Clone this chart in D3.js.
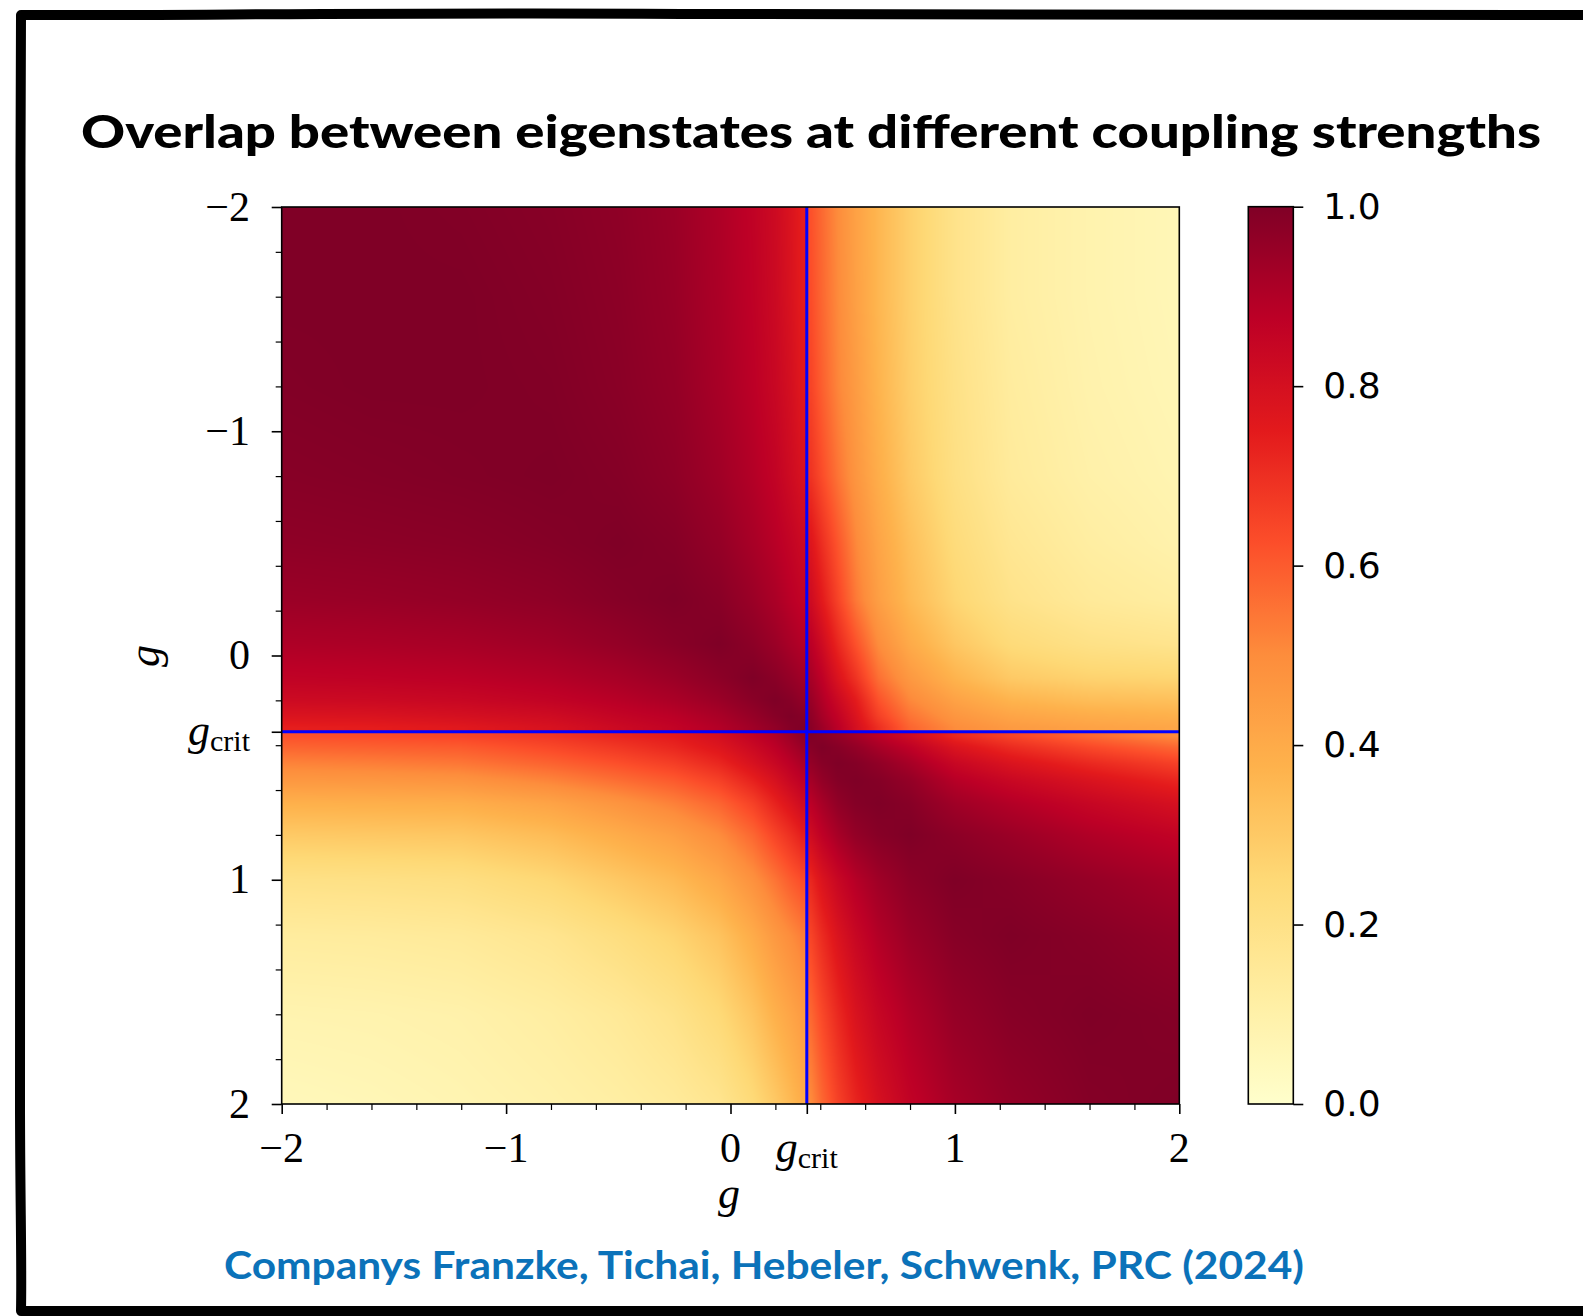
<!DOCTYPE html>
<html>
<head>
<meta charset="utf-8">
<script src="https://cdn.jsdelivr.net/npm/d3@7"></script>
<style>
  body { margin: 0; background: #ffffff; }
  svg { display: block; }
</style>
</head>
<body>
<svg id="chart" width="1583" height="1316"></svg>
<script>
// ---------------- data ----------------
const titleText = "Overlap between eigenstates at different coupling strengths";
const citationText = "Companys Franzke, Tichai, Hebeler, Schwenk, PRC (2024)";
const gCrit = 0.34;

// sample points in g (same for both axes)
const gNodes = [-2, -1.6, -1.2, -0.8, -0.5, -0.25, -0.05, 0.1, 0.2, 0.27, 0.32,
                0.36, 0.41, 0.48, 0.56, 0.66, 0.8, 1.0, 1.25, 1.6, 2.0];

// overlap[row = g on vertical axis][col = g on horizontal axis]
const overlap = [
 [1, 1, .995, .985, .97, .945, .905, .865, .825, .78, .74,   .62, .57, .5, .43, .36, .28, .19, .12, .085, .06],
 [1, 1, 1, .99, .975, .95, .91, .87, .83, .785, .745,        .63, .575, .505, .435, .36, .28, .19, .12, .085, .06],
 [.995, 1, 1, .995, .98, .958, .918, .878, .84, .8, .76,     .65, .59, .515, .45, .37, .285, .2, .13, .09, .065],
 [.985, .99, .995, 1, .99, .97, .935, .895, .86, .82, .79,   .69, .63, .55, .47, .39, .3, .21, .14, .1, .075],
 [.97, .975, .98, .99, 1, .988, .958, .918, .885, .855, .83, .77, .7, .61, .51, .42, .33, .235, .165, .12, .09],
 [.945, .95, .958, .97, .988, 1, .982, .945, .912, .88, .86, .82, .75, .65, .54, .44, .35, .26, .19, .145, .12],
 [.905, .91, .918, .935, .958, .982, 1, .975, .945, .915, .895, .88, .82, .72, .62, .5, .4, .31, .24, .2, .18],
 [.865, .87, .878, .895, .918, .945, .975, 1, .98, .955, .935, .92, .87, .78, .69, .56, .46, .37, .3, .27, .26],
 [.825, .83, .84, .86, .885, .912, .945, .98, 1, .985, .965,  .95, .9, .83, .75, .62, .51, .43, .37, .34, .33],
 [.78, .785, .8, .82, .855, .88, .915, .955, .985, 1, .99,     .97, .92, .86, .78, .66, .55, .47, .42, .395, .38],
 [.74, .745, .76, .79, .83, .86, .895, .935, .965, .99, 1,     .98, .94, .88, .8, .7, .58, .5, .455, .43, .415],
 [.62, .63, .645, .68, .72, .75, .8, .86, .9, .94, .97,        1, .985, .96, .925, .88, .82, .72, .65, .575, .5],
 [.58, .59, .6, .64, .68, .72, .77, .83, .875, .915, .945,     .985, 1, .985, .96, .92, .87, .78, .71, .64, .575],
 [.52, .53, .545, .585, .625, .665, .72, .79, .84, .88, .91,   .96, .985, 1, .99, .965, .92, .84, .78, .715, .655],
 [.46, .465, .475, .515, .56, .6, .655, .73, .79, .84, .87,    .925, .96, .99, 1, .99, .96, .89, .84, .785, .725],
 [.38, .385, .39, .425, .475, .525, .58, .655, .73, .78, .82,  .88, .92, .965, .99, 1, .985, .935, .895, .845, .795],
 [.3, .305, .31, .345, .395, .44, .5, .575, .65, .7, .74,      .82, .87, .92, .96, .985, 1, .975, .945, .9, .86],
 [.2, .205, .215, .255, .305, .35, .41, .485, .55, .6, .63,    .72, .78, .84, .89, .935, .975, 1, .985, .955, .92],
 [.13, .135, .145, .175, .22, .265, .32, .395, .46, .5, .53,   .65, .71, .78, .84, .895, .945, .985, 1, .985, .96],
 [.08, .085, .095, .12, .15, .19, .245, .315, .38, .42, .45,   .575, .64, .715, .785, .845, .9, .955, .985, 1, .99],
 [.05, .06, .075, .095, .115, .14, .175, .24, .3, .35, .39,    .5, .575, .655, .725, .795, .86, .92, .96, .99, 1]
];

const majorTicks = [-2, -1, 0, gCrit, 1, 2];
const majorTickLabels = ["\u22122", "\u22121", "0", "gcrit", "1", "2"];
const minorTicks = [-1.8, -1.6, -1.4, -1.2, -0.8, -0.6, -0.4, -0.2, 0.2, 0.4, 0.6, 0.8, 1.2, 1.4, 1.6, 1.8];
const colorbarTicks = [0, 0.2, 0.4, 0.6, 0.8, 1.0];
const axisLabel = "g";

// ---------------- styles ----------------
const ylOrRd = ["#ffffcc","#ffeda0","#fed976","#feb24c","#fd8d3c","#fc4e2a","#e31a1c","#bd0026","#800026"];
const color = d3.scaleLinear()
  .domain(ylOrRd.map((_, i) => i / (ylOrRd.length - 1)))
  .range(ylOrRd)
  .interpolate(d3.interpolateRgb)
  .clamp(true);

const svg = d3.select("#chart");
const x = d3.scaleLinear().domain([-2, 2]).range([281.7, 1179.3]);
const y = d3.scaleLinear().domain([-2, 2]).range([207, 1104]);
const cScale = d3.scaleLinear().domain([0, 1]).range([1104, 206.7]);
const defs = svg.append("defs");

// ---------------- hand-drawn frame ----------------
svg.append("path")
  .attr("d", "M1610,15 C1300,13 1000,17 700,14 C400,12 150,16 21,15 C19,400 23,800 20,1100 C20,1200 22,1260 21,1311 C400,1313 900,1309 1610,1311")
  .attr("fill", "none").attr("stroke", "#000").attr("stroke-width", 10)
  .attr("stroke-linejoin", "round").attr("stroke-linecap", "round");

// ---------------- title & citation ----------------
svg.append("text").text(titleText)
  .attr("x", 81).attr("y", 148)
  .attr("font-family", "Lato, 'Open Sans', sans-serif").attr("font-weight", 900)
  .attr("font-size", 45).attr("fill", "#000")
  .attr("textLength", 1460).attr("lengthAdjust", "spacingAndGlyphs");

svg.append("text").text(citationText)
  .attr("x", 224).attr("y", 1279)
  .attr("font-family", "Lato, 'Open Sans', sans-serif").attr("font-weight", 700)
  .attr("font-size", 39).attr("fill", "#0b72b9")
  .attr("textLength", 1080).attr("lengthAdjust", "spacingAndGlyphs");

// ---------------- heatmap (shaded between the sampled nodes) ----------------
const n = gNodes.length;
const split = gNodes.findIndex(g => g > gCrit);
function locate(g) {
  const lo = g < gCrit ? 0 : split;
  const hi = g < gCrit ? split - 1 : n - 1;
  if (g <= gNodes[lo]) return [lo, lo, 0];
  if (g >= gNodes[hi]) return [hi, hi, 0];
  let k = lo;
  while (gNodes[k + 1] < g) k++;
  return [k, k + 1, (g - gNodes[k]) / (gNodes[k + 1] - gNodes[k])];
}
const px0 = x(-2), py0 = y(-2);
const W = Math.round(x(2) - x(-2)), H = Math.round(y(2) - y(-2));
const canvas = document.createElement("canvas");
canvas.width = W; canvas.height = H;
const ctx = canvas.getContext("2d");
const img = ctx.createImageData(W, H);
const lut = d3.range(1001).map(k => d3.rgb(color(k / 1000)));
const colLoc = d3.range(W).map(i => locate(x.invert(px0 + i + 0.5)));
const rowLoc = d3.range(H).map(j => locate(y.invert(py0 + j + 0.5)));
for (let j = 0; j < H; j++) {
  const [r0, r1, ty] = rowLoc[j];
  for (let i = 0; i < W; i++) {
    const [c0, c1, tx] = colLoc[i];
    const a = overlap[r0][c0] * (1 - tx) + overlap[r0][c1] * tx;
    const b = overlap[r1][c0] * (1 - tx) + overlap[r1][c1] * tx;
    const v = a * (1 - ty) + b * ty;
    const c = lut[Math.max(0, Math.min(1000, Math.round(v * 1000)))];
    const p = (j * W + i) * 4;
    img.data[p] = c.r; img.data[p + 1] = c.g; img.data[p + 2] = c.b; img.data[p + 3] = 255;
  }
}
ctx.putImageData(img, 0, 0);
svg.append("image")
  .attr("href", canvas.toDataURL())
  .attr("x", px0).attr("y", py0)
  .attr("width", x(2) - x(-2)).attr("height", y(2) - y(-2))
  .attr("preserveAspectRatio", "none");

// critical lines
svg.append("line")
  .attr("x1", x(gCrit)).attr("x2", x(gCrit)).attr("y1", y(-2)).attr("y2", y(2))
  .attr("stroke", "#0000ff").attr("stroke-width", 3);
svg.append("line")
  .attr("x1", x(-2)).attr("x2", x(2)).attr("y1", y(gCrit)).attr("y2", y(gCrit))
  .attr("stroke", "#0000ff").attr("stroke-width", 3);

// frame
svg.append("rect")
  .attr("x", x(-2)).attr("y", y(-2))
  .attr("width", x(2) - x(-2)).attr("height", y(2) - y(-2))
  .attr("fill", "none").attr("stroke", "#000").attr("stroke-width", 1.6);

// ---------------- axes ----------------
function styleAxis(g, w) {
  g.select(".domain").remove();
  g.selectAll(".tick line").attr("stroke", "#000").attr("stroke-width", w);
  g.selectAll(".tick text").remove();
}
svg.append("g").attr("transform", `translate(0,${y(2)})`)
  .call(d3.axisBottom(x).tickValues(majorTicks).tickSize(10).tickFormat(""))
  .call(g => styleAxis(g, 1.6));
svg.append("g").attr("transform", `translate(0,${y(2)})`)
  .call(d3.axisBottom(x).tickValues(minorTicks).tickSize(6).tickFormat(""))
  .call(g => styleAxis(g, 1.2));
svg.append("g").attr("transform", `translate(${x(-2)},0)`)
  .call(d3.axisLeft(y).tickValues(majorTicks).tickSize(10).tickFormat(""))
  .call(g => styleAxis(g, 1.6));
svg.append("g").attr("transform", `translate(${x(-2)},0)`)
  .call(d3.axisLeft(y).tickValues(minorTicks).tickSize(6).tickFormat(""))
  .call(g => styleAxis(g, 1.2));

const serif = "'Liberation Serif', 'DejaVu Serif', serif";
function writeLabel(t, lab) {
  if (lab === "gcrit") {
    t.append("tspan").attr("font-style", "italic").attr("font-size", 44).text("g");
    t.append("tspan").attr("font-size", 30).attr("dy", 6).text("crit");
  } else {
    t.text(lab);
  }
}
majorTicks.forEach((v, k) => {
  const tx = svg.append("text")
    .attr("x", x(v)).attr("y", 1161.5)
    .attr("text-anchor", "middle")
    .attr("font-family", serif).attr("font-size", 42).attr("fill", "#000");
  writeLabel(tx, majorTickLabels[k]);
  const ty = svg.append("text")
    .attr("x", 250).attr("y", y(v) + 13.5)
    .attr("text-anchor", "end")
    .attr("font-family", serif).attr("font-size", 42).attr("fill", "#000");
  writeLabel(ty, majorTickLabels[k]);
});

// axis titles
svg.append("text").text(axisLabel)
  .attr("x", 729).attr("y", 1208).attr("text-anchor", "middle")
  .attr("font-family", serif).attr("font-style", "italic").attr("font-size", 44);
svg.append("text").text(axisLabel)
  .attr("transform", "translate(159,656) rotate(-90)").attr("text-anchor", "middle")
  .attr("font-family", serif).attr("font-style", "italic").attr("font-size", 44);

// ---------------- colorbar ----------------
const grad = defs.append("linearGradient").attr("id", "cbar")
  .attr("x1", 0).attr("y1", 1).attr("x2", 0).attr("y2", 0);
d3.range(0, 1.0001, 0.025).forEach(t => {
  grad.append("stop").attr("offset", t).attr("stop-color", color(t));
});
const cbX0 = 1248.3, cbX1 = 1293.3;
svg.append("rect")
  .attr("x", cbX0).attr("y", cScale(1))
  .attr("width", cbX1 - cbX0).attr("height", cScale(0) - cScale(1))
  .attr("fill", "url(#cbar)").attr("stroke", "#000").attr("stroke-width", 1.6);
svg.append("g").attr("transform", `translate(${cbX1},0)`)
  .call(d3.axisRight(cScale).tickValues(colorbarTicks).tickSize(10).tickPadding(20)
    .tickFormat(d3.format(".1f")))
  .call(g => {
    g.select(".domain").remove();
    g.selectAll(".tick line").attr("stroke", "#000").attr("stroke-width", 1.6);
    g.selectAll(".tick text").attr("font-family", "'DejaVu Sans', sans-serif")
      .attr("font-size", 36).attr("fill", "#000");
  });
</script>
</body>
</html>
